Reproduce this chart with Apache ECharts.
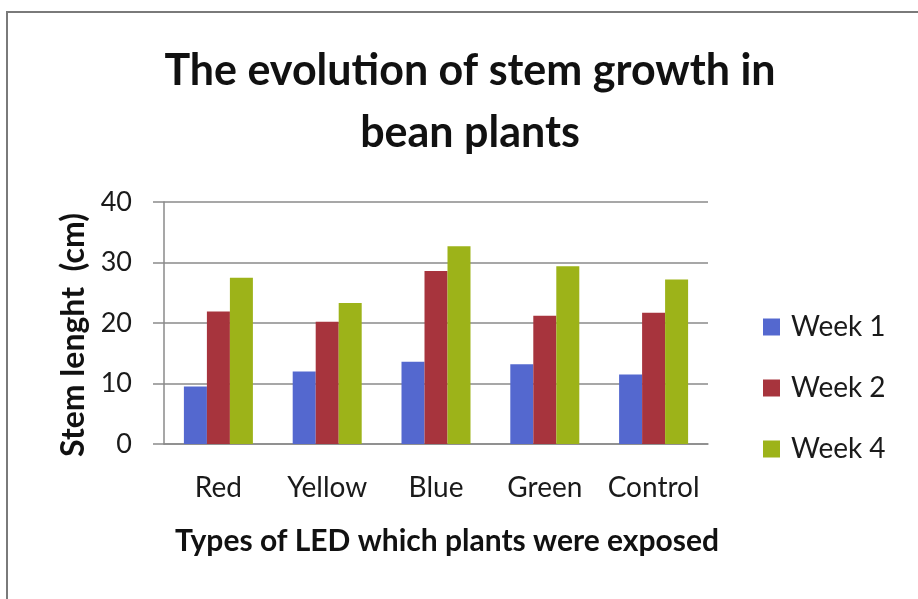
<!DOCTYPE html>
<html>
<head>
<meta charset="utf-8">
<script src="https://cdn.jsdelivr.net/npm/echarts@6/dist/echarts.min.js"></script>
<style>html,body{margin:0;padding:0;background:#fff;}#c{width:918px;height:599px;}</style>
</head>
<body>
<div id="c"></div>
<script>
const categories = ['Red', 'Yellow', 'Blue', 'Green', 'Control'];
const seriesNames = ['Week 1', 'Week 2', 'Week 4'];
const week1 = [9.5, 12.0, 13.6, 13.2, 11.5];
const week2 = [21.9, 20.2, 28.6, 21.2, 21.7];
const week4 = [27.5, 23.3, 32.7, 29.4, 27.2];
const yTicks = [0, 10, 20, 30, 40];

const FONT = 'Lato';
const colors = ['#5468cf', '#a7343d', '#9db319'];
const chart = echarts.init(document.getElementById('c'));
const gridLine = '#8a8a8a';
chart.setOption({
  backgroundColor: '#ffffff',
  animation: false,
  graphic: [{
    type: 'rect', shape: {x: 7, y: 12, width: 1000, height: 1000},
    style: {fill: 'none', stroke: '#7a7a7a', lineWidth: 2}, silent: true
  }],
  title: {
    text: 'The evolution of stem growth in\nbean plants',
    left: 465, top: 35, textAlign: 'center',
    textStyle: {fontFamily: FONT, fontWeight: 'bold', fontSize: 43, lineHeight: 62, color: '#111'}
  },
  color: colors,
  legend: {
    orient: 'vertical', left: 758, top: 307,
    itemWidth: 17, itemHeight: 17, itemGap: 31,
    icon: 'rect',
    data: seriesNames,
    textStyle: {fontFamily: FONT, fontSize: 28, lineHeight: 30, color: '#1a1a1a', padding: [0, 0, 0, 6]}
  },
  grid: {left: 164, right: 210, top: 202, bottom: 155, containLabel: false},
  xAxis: {
    type: 'category', data: categories,
    axisLine: {lineStyle: {color: gridLine, width: 1.5}},
    axisTick: {length: 11, lineStyle: {color: gridLine, width: 1.5}},
    axisLabel: {fontFamily: FONT, fontSize: 28, color: '#1a1a1a', margin: 30, interval: 0},
    name: 'Types of LED which plants were exposed',
    nameLocation: 'middle', nameGap: 82,
    nameTextStyle: {fontFamily: FONT, fontWeight: 'bold', fontSize: 30, color: '#111', padding: [0, 0, 0, 22]}
  },
  yAxis: {
    type: 'value', min: 0, max: 40, interval: 10,
    axisLine: {show: true, lineStyle: {color: gridLine, width: 1.5}},
    axisTick: {show: true, length: 11, lineStyle: {color: gridLine, width: 1.5}},
    splitLine: {lineStyle: {color: gridLine, width: 1.5}},
    axisLabel: {fontFamily: FONT, fontSize: 27, color: '#1a1a1a', margin: 32,
      formatter: v => yTicks.includes(v) ? String(v) : ''},
    name: 'Stem lenght  (cm)',
    nameLocation: 'middle', nameGap: 73,
    nameTextStyle: {fontFamily: FONT, fontWeight: 'bold', fontSize: 32, color: '#111', padding: [0, 24, 0, 0]}
  },
  series: [
    {name: seriesNames[0], type: 'bar', data: week1, barWidth: 23, barGap: '0%', barCategoryGap: '36%'},
    {name: seriesNames[1], type: 'bar', data: week2, barWidth: 23, barGap: '0%'},
    {name: seriesNames[2], type: 'bar', data: week4, barWidth: 23, barGap: '0%'}
  ]
});
</script>
</body>
</html>
